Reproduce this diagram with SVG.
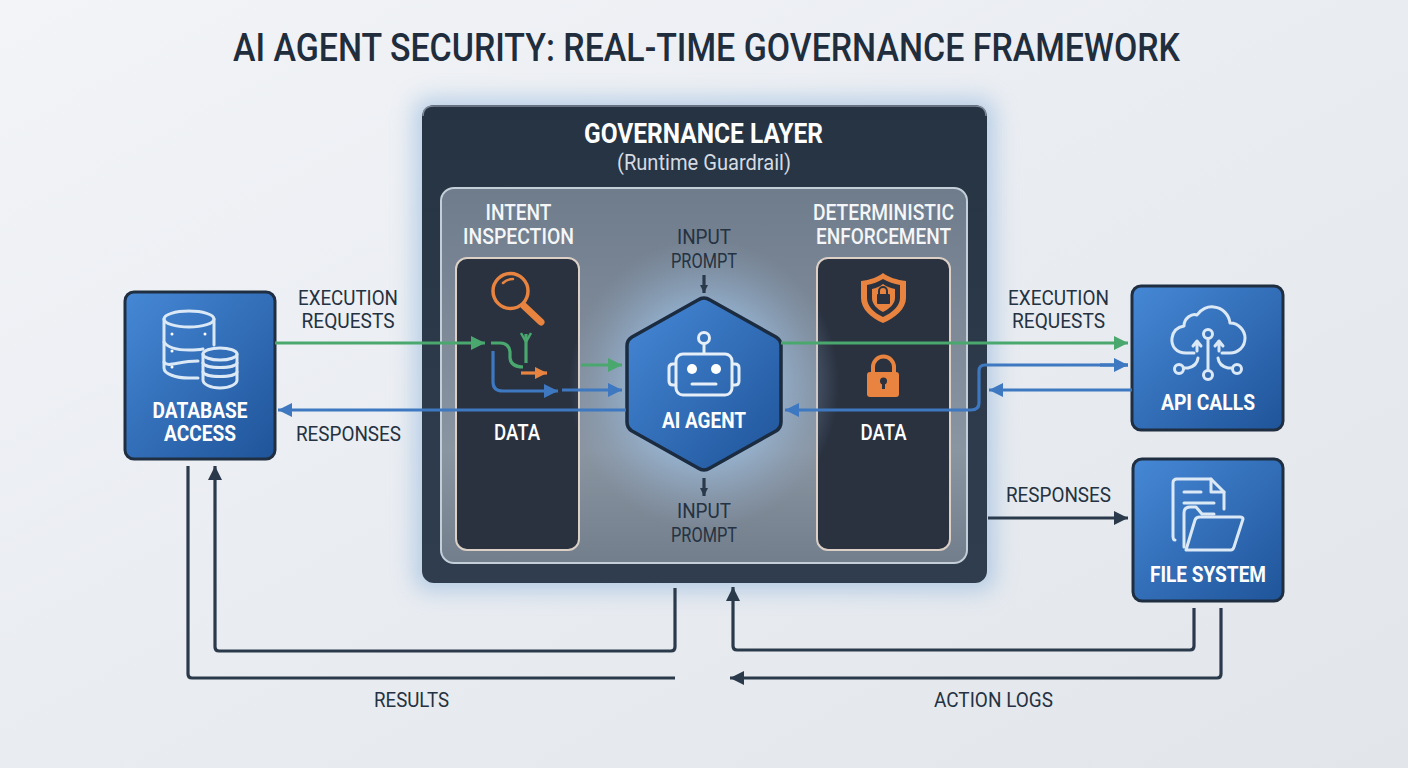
<svg xmlns="http://www.w3.org/2000/svg" width="1408" height="768" viewBox="0 0 1408 768">
<defs>
<linearGradient id="bg" x1="0" y1="0" x2="1" y2="1"><stop offset="0" stop-color="#f2f4f7"/><stop offset="0.5" stop-color="#e9ecf1"/><stop offset="1" stop-color="#e2e6eb"/></linearGradient>
<linearGradient id="panel" x1="0" y1="0" x2="0" y2="1"><stop offset="0" stop-color="#263342"/><stop offset="0.6" stop-color="#2d3a4b"/><stop offset="1" stop-color="#2f3d4e"/></linearGradient>
<linearGradient id="inner" x1="0" y1="0" x2="0" y2="1"><stop offset="0" stop-color="#6f7c8c"/><stop offset="0.7" stop-color="#8a95a2"/><stop offset="1" stop-color="#737e8c"/></linearGradient>
<linearGradient id="blue" x1="0" y1="0" x2="1" y2="1"><stop offset="0" stop-color="#4688d6"/><stop offset="1" stop-color="#1f5499"/></linearGradient>
<radialGradient id="halo" cx="0.5" cy="0.5" r="0.5"><stop offset="0" stop-color="#a8cdf0" stop-opacity="0.95"/><stop offset="0.55" stop-color="#9cc0e4" stop-opacity="0.6"/><stop offset="1" stop-color="#8fa9c6" stop-opacity="0"/></radialGradient>
<filter id="glow" x="-15%" y="-15%" width="130%" height="130%"><feGaussianBlur stdDeviation="11"/></filter>
<marker id="aG" markerUnits="userSpaceOnUse" markerWidth="16" markerHeight="16" refX="15" refY="8" orient="auto"><path d="M1,1 L15,8 L1,15 Z" fill="#4aa76e"/></marker>
<marker id="aB" markerUnits="userSpaceOnUse" markerWidth="16" markerHeight="16" refX="15" refY="8" orient="auto"><path d="M1,1 L15,8 L1,15 Z" fill="#3d78c0"/></marker>
<marker id="aO" markerUnits="userSpaceOnUse" markerWidth="16" markerHeight="16" refX="14" refY="8" orient="auto"><path d="M2,2 L14,8 L2,14 Z" fill="#e8843f"/></marker>
<marker id="aD" markerUnits="userSpaceOnUse" markerWidth="16" markerHeight="16" refX="15" refY="8" orient="auto"><path d="M1,1 L15,8 L1,15 Z" fill="#2b3a4b"/></marker>
<marker id="aS" markerUnits="userSpaceOnUse" markerWidth="10" markerHeight="10" refX="9" refY="5" orient="auto"><path d="M1,1 L9,5 L1,9 Z" fill="#2b3a4b"/></marker>
</defs>
<style>
text{font-family:Roboto,"Liberation Sans",sans-serif;text-anchor:middle}
.t{font-size:21px;fill:#243242}
.w{font-size:22px;fill:#f4f6f8;font-weight:500}
.wb{font-size:22px;fill:#fff;font-weight:700}
.c{fill:none;stroke-width:3.2;stroke-linejoin:round}
.g{stroke:#4aa76e}.b{stroke:#3d78c0}.o{stroke:#e8843f}.d{stroke:#2b3a4b}
.box{fill:url(#blue);stroke:#1f2e40;stroke-width:3}
.ic{fill:none;stroke:#dbe8f6;stroke-width:3;stroke-linecap:round;stroke-linejoin:round}
.col{fill:#2a3240;stroke:#dccfc6;stroke-width:2}
</style>
<rect width="1408" height="768" fill="url(#bg)"/>
<text x="706.5" y="61" font-size="39" font-weight="500" fill="#1f2d3d" textLength="947" lengthAdjust="spacingAndGlyphs">AI AGENT SECURITY: REAL-TIME GOVERNANCE FRAMEWORK</text>

<g id="governance-layer">
<rect x="414" y="98" width="581" height="493" rx="14" fill="#8db4dc" opacity="0.55" filter="url(#glow)"/>
<rect x="422" y="105" width="565" height="478" rx="12" fill="url(#panel)"/>
<path d="M423,116 Q423,106 434,106 H975 Q986,106 986,116" fill="none" stroke="#7c8896" stroke-width="1.5"/>
<text x="703.5" y="143" font-size="28" font-weight="700" fill="#fff" textLength="239" lengthAdjust="spacingAndGlyphs">GOVERNANCE LAYER</text>
<text x="704" y="170" font-size="22" fill="#d5dbe2" textLength="174" lengthAdjust="spacingAndGlyphs">(Runtime Guardrail)</text>
<rect x="441" y="188" width="526" height="375" rx="13" fill="url(#inner)" stroke="#c3ced9" stroke-width="2"/>
<text class="w" x="518.5" y="220" textLength="66" lengthAdjust="spacingAndGlyphs">INTENT</text>
<text class="w" x="518.5" y="244" textLength="111" lengthAdjust="spacingAndGlyphs">INSPECTION</text>
<text class="w" x="883.5" y="220" textLength="141" lengthAdjust="spacingAndGlyphs">DETERMINISTIC</text>
<text class="w" x="883.5" y="244" textLength="135" lengthAdjust="spacingAndGlyphs">ENFORCEMENT</text>
</g>

<g id="intent-inspection">
<rect class="col" x="456" y="258" width="123" height="292" rx="11"/>
<circle cx="510.500" cy="291" r="17.500" fill="none" stroke="#e8843f" stroke-width="3.500"/>
<path d="M503,283 Q507,279 513,279" fill="none" stroke="#e8843f" stroke-width="2.500" stroke-linecap="round"/>
<path d="M524,306 L541,322" stroke="#e8843f" stroke-width="7" stroke-linecap="round"/>
<text x="517" y="440" font-size="22" font-weight="500" fill="#fff" textLength="46" lengthAdjust="spacingAndGlyphs">DATA</text>
</g>
<g id="deterministic-enforcement">
<rect class="col" x="817" y="258" width="133" height="292" rx="11"/>
<path d="M883,273 C888,277 897,280 906,281 V298 C906,309 895,318 883,323 C871,318 861,309 861,298 V281 C870,280 878,277 883,273 Z" fill="#e8843f"/>
<path d="M883,279 C888,282 894,284 900,285 V298 C900,306 892,313 883,317 C874,313 867,306 867,298 V285 C873,284 878,282 883,279 Z" fill="#2a3240"/>
<path d="M883,284 C887,287 891,288 895,289 V298 C895,304 889,309 883,312 C877,309 872,304 872,298 V289 C876,288 879,287 883,284 Z" fill="#e8843f"/>
<rect x="877" y="294" width="13" height="10" rx="1" fill="#2a3240"/>
<path d="M879,295 V291 a4,4 0 0 1 8,0 V295" fill="none" stroke="#2a3240" stroke-width="2"/>
<rect x="867" y="372" width="32" height="25" rx="3" fill="#e8843f"/>
<path d="M873,373 V367 a10.500,10.500 0 0 1 21,0 V373" fill="none" stroke="#e8843f" stroke-width="4"/>
<circle cx="883.500" cy="381" r="3.500" fill="#2a3240"/><rect x="882" y="382" width="3" height="7" fill="#2a3240"/>
<text x="883.500" y="440" font-size="22" font-weight="500" fill="#fff" textLength="46" lengthAdjust="spacingAndGlyphs">DATA</text>
</g>

<g id="ai-agent">
<ellipse cx="704" cy="384" rx="135" ry="145" fill="url(#halo)"/>
<path d="M698,300 Q704,296 710,300 L776,337 Q781,340 781,346 V422 Q781,428 776,431 L710,468 Q704,472 698,468 L632,431 Q627,428 627,422 V346 Q627,340 632,337 Z" fill="url(#blue)" stroke="#1b2b40" stroke-width="3.500" stroke-linejoin="round"/>
<g fill="none" stroke="#e6eef8" stroke-width="3">
<circle cx="704" cy="338" r="5.500"/><path d="M704,344 V353"/>
<rect x="676" y="354" width="56" height="41" rx="7"/>
<path d="M676,364 H673 Q669,364 669,368 V381 Q669,385 673,385 H676"/><path d="M732,364 H735 Q739,364 739,368 V381 Q739,385 735,385 H732"/>
<path d="M692,384 H716" stroke-linecap="round"/>
</g>
<circle cx="692" cy="369" r="5" fill="#fff"/><circle cx="716" cy="369" r="5" fill="#fff"/>
<text class="wb" x="704" y="428" textLength="84" lengthAdjust="spacingAndGlyphs">AI AGENT</text>
<text class="t" x="704" y="244" textLength="54" lengthAdjust="spacingAndGlyphs">INPUT</text>
<text class="t" x="704" y="268" textLength="66" lengthAdjust="spacingAndGlyphs">PROMPT</text>
<text class="t" x="704" y="518" textLength="54" lengthAdjust="spacingAndGlyphs">INPUT</text>
<text class="t" x="704" y="542" textLength="66" lengthAdjust="spacingAndGlyphs">PROMPT</text>
</g>

<g id="database-access">
<rect class="box" x="125" y="292" width="150" height="167" rx="9"/>
<g class="ic">
<ellipse cx="189" cy="319" rx="25" ry="8"/>
<path d="M164,319 V368 C164,374 176,378 189,378 H198"/>
<path d="M214,319 V345"/>
<path d="M164,342 C168,348 178,350 189,350 C194,350 198,350 203,349"/>
<path d="M164,362 C168,368 178,361 198,361"/>
<ellipse cx="220" cy="354" rx="17" ry="6"/>
<path d="M203,354 V380 C203,384 210,388 220,388 C230,388 237,384 237,380 V354"/>
<path d="M203,363 C205,369 235,369 237,363"/><path d="M203,372 C205,378 235,378 237,372"/>
</g>
<circle cx="172" cy="334" r="1.500" fill="#fff"/><circle cx="205" cy="334" r="1.500" fill="#fff"/><circle cx="172" cy="351" r="1.500" fill="#fff"/><circle cx="172" cy="367" r="1.500" fill="#fff"/>
<text class="wb" x="200" y="418" textLength="95" lengthAdjust="spacingAndGlyphs">DATABASE</text>
<text class="wb" x="200" y="441" textLength="72" lengthAdjust="spacingAndGlyphs">ACCESS</text>
</g>

<g id="api-calls">
<rect class="box" x="1132" y="286" width="151" height="144" rx="9"/>
<g class="ic">
<path d="M1194,353 H1186 C1176,353 1171,346 1172,338 C1173,331 1178,327 1184,326 C1184,318 1192,313 1197,315 C1201,309 1208,306 1214,307 C1223,308 1229,315 1230,323 C1239,323 1245,331 1245,338 C1245,347 1238,353 1230,353 H1222"/>
<circle cx="1208" cy="334" r="4.500"/><path d="M1208,339 V370"/><circle cx="1208" cy="375" r="4.500"/>
<circle cx="1179" cy="369" r="4.500"/><path d="M1184,368 H1188 Q1197,366 1198,358"/>
<circle cx="1237" cy="369" r="4.500"/><path d="M1232,368 H1228 Q1219,366 1218,358"/>
<path d="M1197,351 V343 M1193,346 L1197,341 L1201,346"/><path d="M1219,351 V343 M1215,346 L1219,341 L1223,346"/>
</g>
<text class="wb" x="1208" y="410" textLength="94" lengthAdjust="spacingAndGlyphs">API CALLS</text>
</g>

<g id="file-system">
<rect class="box" x="1133" y="459" width="150" height="142" rx="9"/>
<g class="ic">
<path d="M1175,540 Q1173,540 1173,536 V483 Q1173,479 1177,479 H1211 L1224,492 V509"/>
<path d="M1211,479 V492 H1224"/>
<path d="M1184,492 H1201"/><path d="M1184,503 H1214"/>
<path d="M1184,547 V513 Q1184,507 1190,507 H1196 L1202,514 H1214"/>
<path d="M1186,550 H1231 Q1233,550 1234,547 L1243,519 Q1243,517 1240,517 H1200 Q1196,517 1195,520 Z"/>
</g>
<text class="wb" x="1208" y="582" textLength="116" lengthAdjust="spacingAndGlyphs">FILE SYSTEM</text>
</g>

<g id="connectors">
<path class="c g" d="M275,343 H485" marker-end="url(#aG)"/>
<path class="c g" d="M491,343 H500 Q509,343 510,352 V358 Q511,367 523,367"/>
<path class="c g" d="M526,363 V334"/>
<path d="M521,333 L526,342 L531,333" fill="none" stroke="#4aa76e" stroke-width="2.500"/>
<path class="c o" d="M521,373 H547" marker-end="url(#aO)"/>
<path class="c b" d="M493,351 V382 Q493,391 503,391 H558" marker-end="url(#aB)"/>
<path class="c b" d="M562,390 H622" marker-end="url(#aB)"/>
<path class="c g" d="M581,365 H622" marker-end="url(#aG)"/>
<path class="c b" d="M626,410 H278" marker-end="url(#aB)"/>
<path class="c g" d="M781,343 H1128" marker-end="url(#aG)"/>
<path class="c b" d="M1128,365 H985 Q979,365 979,371 V403 Q979,410 971,410 H785" marker-end="url(#aB)"/>
<path class="c b" d="M1100,365 H1128" marker-end="url(#aB)"/>
<path class="c b" d="M1132,390 H989" marker-end="url(#aB)"/>
<path class="c d" d="M988,518 H1128" marker-end="url(#aD)"/>
<path class="c d" d="M704,275 V293" stroke-width="2" marker-end="url(#aS)"/>
<path class="c d" d="M704,478 V496" stroke-width="2" marker-end="url(#aS)"/>
<path class="c d" d="M675,588 V647 Q675,651 671,651 H219 Q215,651 215,647 V466" marker-end="url(#aD)"/>
<path class="c d" d="M675,678 H192 Q188,678 188,674 V466"/>
<path class="c d" d="M1194,608 V646 Q1194,650 1190,650 H737 Q733,650 733,646 V587" marker-end="url(#aD)"/>
<path class="c d" d="M1221,608 V674 Q1221,678 1217,678 H730" marker-end="url(#aD)"/>
</g>

<g id="connector-labels">
<text class="t" x="348" y="305" textLength="100" lengthAdjust="spacingAndGlyphs">EXECUTION</text>
<text class="t" x="348" y="328" textLength="93" lengthAdjust="spacingAndGlyphs">REQUESTS</text>
<text class="t" x="348.500" y="441" textLength="105" lengthAdjust="spacingAndGlyphs">RESPONSES</text>
<text class="t" x="1058.500" y="305" textLength="101" lengthAdjust="spacingAndGlyphs">EXECUTION</text>
<text class="t" x="1058.500" y="328" textLength="93" lengthAdjust="spacingAndGlyphs">REQUESTS</text>
<text class="t" x="1058.500" y="502" textLength="105" lengthAdjust="spacingAndGlyphs">RESPONSES</text>
<text class="t" x="411.500" y="707" textLength="75" lengthAdjust="spacingAndGlyphs">RESULTS</text>
<text class="t" x="993.500" y="707" textLength="119" lengthAdjust="spacingAndGlyphs">ACTION LOGS</text>
</g>
</svg>
